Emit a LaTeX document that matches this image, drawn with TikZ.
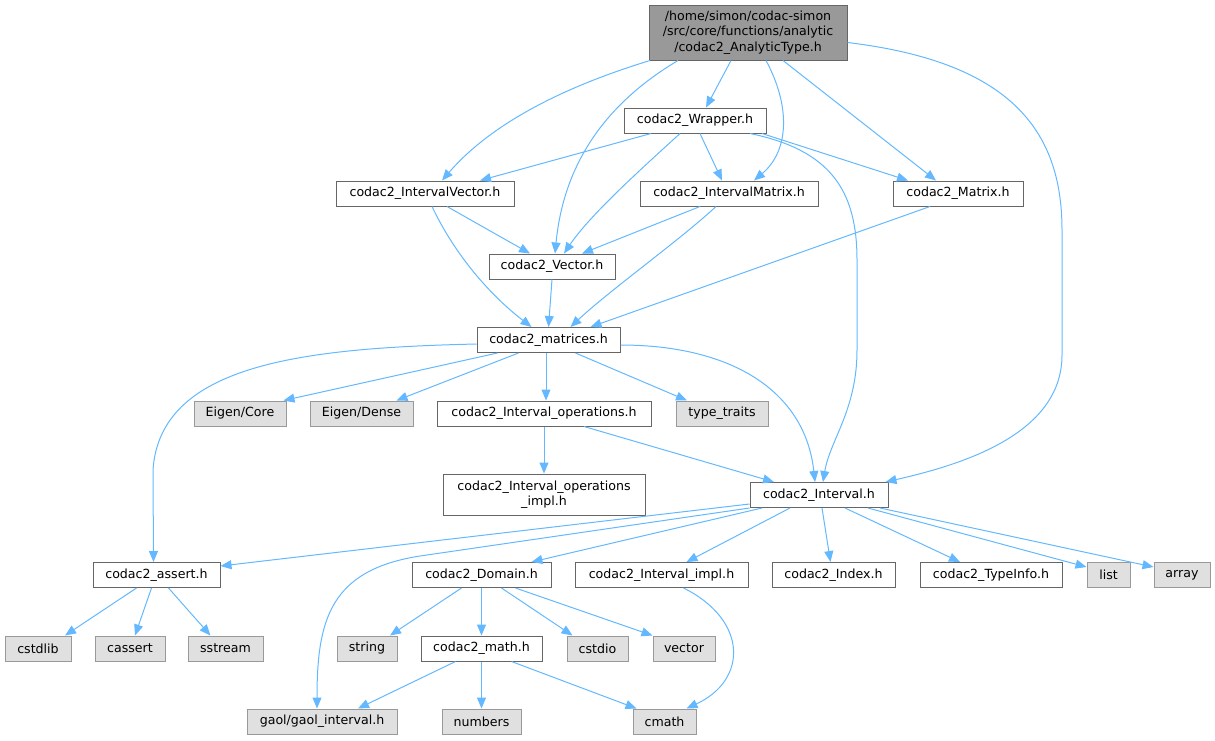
\documentclass[tikz,border=0pt]{standalone}
\usepackage{fontspec}
\setmainfont{DejaVu Sans}
\usepackage{tikz}
\usetikzlibrary{arrows.meta}
\definecolor{depblue}{HTML}{63B8FF}
\definecolor{nodeline}{HTML}{666666}
\definecolor{sysline}{HTML}{999999}
\definecolor{sysfill}{HTML}{E0E0E0}
\definecolor{topfill}{HTML}{999999}

\begin{document}
\begin{tikzpicture}[x=1pt,y=-1pt,font=\fontsize{12.6}{15.5}\selectfont,
hdr/.style={draw=nodeline,fill=white,line width=1pt,inner sep=0,minimum height=25,minimum width=#1},
sys/.style={draw=sysline,fill=sysfill,line width=1pt,inner sep=0,minimum height=25,minimum width=#1},
dep/.style={draw=depblue,line width=1pt,-{Triangle[length=11pt,width=9pt]}}]
\useasboundingbox(0,0)rectangle(1215,740);

\node[hdr=198,fill=topfill,minimum height=55,align=center](top)at(748,32.5){/home/simon/codac-simon\\/src/core/functions/analytic\\/codac2\_AnalyticType.h};
\node[hdr=142](wrap)at(695,120.5){codac2\_Wrapper.h};
\node[hdr=178](ivec)at(425,193.5){codac2\_IntervalVector.h};
\node[hdr=178](imat)at(729,193.5){codac2\_IntervalMatrix.h};
\node[hdr=130](mat)at(958,193.5){codac2\_Matrix.h};
\node[hdr=126](vec)at(552,266.5){codac2\_Vector.h};
\node[hdr=143](mats)at(548.5,340){codac2\_matrices.h};
\node[sys=92](ecore)at(240,413.5){Eigen/Core};
\node[sys=103](edense)at(361.5,413.5){Eigen/Dense};
\node[hdr=214](iops)at(544,413.5){codac2\_Interval\_operations.h};
\node[sys=92](ttraits)at(722,413.5){type\_traits};
\node[hdr=202,minimum height=41,align=center](iopsi)at(544,494.5){codac2\_Interval\_operations\\\_impl.h};
\node[hdr=138](itv)at(819,495){codac2\_Interval.h};
\node[hdr=127](asrt)at(156.5,575){codac2\_assert.h};
\node[hdr=139](dom)at(481.5,575){codac2\_Domain.h};
\node[hdr=173](iimpl)at(661.5,575){codac2\_Interval\_impl.h};
\node[hdr=123](idx)at(833.5,575){codac2\_Index.h};
\node[hdr=142](tinfo)at(991,575){codac2\_TypeInfo.h};
\node[sys=43](list)at(1108.5,575){list};
\node[sys=56](array)at(1182,575){array};
\node[sys=66](cstdlib)at(38,648.5){cstdlib};
\node[sys=70](cassert)at(130,648.5){cassert};
\node[sys=75](sstream)at(225.5,648.5){sstream};
\node[sys=60](string)at(367,648.5){string};
\node[hdr=121](math)at(481.5,648.5){codac2\_math.h};
\node[sys=61](cstdio)at(597.5,648.5){cstdio};
\node[sys=62](vector)at(684,648.5){vector};
\node[sys=150](gaol)at(322,721.5){gaol/gaol\_interval.h};
\node[sys=79](numbers)at(481.5,721.5){numbers};
\node[sys=63](cmath)at(664.5,721.5){cmath};

\draw[dep]([xshift=-17]top.south)--([xshift=11]wrap.north);
\draw[dep]([xshift=-98]top.south)..controls(560,88)and(490,125)..([xshift=17]ivec.north);
\draw[dep]([xshift=-70]top.south)..controls(620,95)and(565,150)..([xshift=3]vec.north);
\draw[dep]([xshift=18]top.south)..controls(790,105)and(790,150)..([xshift=25]imat.north);
\draw[dep]([xshift=35]top.south)--([xshift=-22]mat.north);
\draw[dep]([yshift=-10]top.east)..controls(1010,62)and(1062,130)..(1062,230)--(1062,355)..controls(1062,435)and(960,465)..([xshift=-3]itv.north east);

\draw[dep]([xshift=-44]wrap.south)--([xshift=55]ivec.north);
\draw[dep]([xshift=-15]wrap.south)..controls(640,170)and(590,215)..([xshift=12]vec.north);
\draw[dep]([xshift=5]wrap.south)--([xshift=-7]imat.north);
\draw[dep]([xshift=67]wrap.south)--([xshift=-50]mat.north);
\draw[dep]([xshift=55]wrap.south)..controls(830,150)and(857,190)..(857,260)--(857,350)..controls(857,410)and(830,440)..([xshift=4]itv.north);

\draw[dep]([xshift=22]ivec.south)--([xshift=-22]vec.north);
\draw[dep]([xshift=7]ivec.south)..controls(455,255)and(490,295)..([xshift=-17]mats.north);
\draw[dep]([xshift=-29]imat.south)--([xshift=30]vec.north);
\draw[dep]([xshift=-13]imat.south)..controls(680,240)and(610,290)..([xshift=22]mats.north);
\draw[dep]([xshift=-28]mat.south)--([xshift=42]mats.north);
\draw[dep](vec.south)--(mats.north);

\draw[dep]([yshift=-4]mats.west)..controls(300,348)and(160,365)..(153,470)--([xshift=-3]asrt.north);
\draw[dep]([xshift=-51]mats.south)--([xshift=-3]ecore.north east);
\draw[dep]([xshift=-30]mats.south)--([xshift=35]edense.north);
\draw[dep]([xshift=-2.5]mats.south)--([xshift=2]iops.north);
\draw[dep]([xshift=27]mats.south)--([xshift=-35]ttraits.north);
\draw[dep]([yshift=-5]mats.east)..controls(730,345)and(805,390)..([xshift=-4]itv.north);

\draw[dep](iops.south)--(iopsi.north);
\draw[dep]([xshift=40]iops.south)--([xshift=-45]itv.north);

\draw[dep]([yshift=-9]itv.west)--([yshift=9]asrt.east);
\draw[dep](itv.south west)--(420,556)..controls(330,570)and(317,620)..([xshift=-5]gaol.north);
\draw[dep]([xshift=-57]itv.south)--([xshift=50]dom.north);
\draw[dep]([xshift=-29]itv.south)--([xshift=25]iimpl.north);
\draw[dep]([xshift=3]itv.south)--([xshift=-3]idx.north);
\draw[dep]([xshift=26]itv.south)--([xshift=-31]tinfo.north);
\draw[dep]([xshift=49]itv.south)--([yshift=8]list.west);
\draw[dep]([xshift=61]itv.south)--([yshift=8]array.west);

\draw[dep]([xshift=-20]asrt.south)--([xshift=27]cstdlib.north);
\draw[dep]([xshift=-5]asrt.south)--([xshift=5]cassert.north);
\draw[dep]([xshift=12]asrt.south)--([xshift=-15]sstream.north);

\draw[dep]([xshift=-20]dom.south)--([xshift=23]string.north);
\draw[dep](dom.south)--(math.north);
\draw[dep]([xshift=20]dom.south)--([xshift=-25]cstdio.north);
\draw[dep]([xshift=34]dom.south)--(vector.north west);
\draw[dep]([xshift=22]iimpl.south)..controls(748,620)and(748,680)..([xshift=22]cmath.north);

\draw[dep]([xshift=-26]math.south)--([xshift=36]gaol.north);
\draw[dep](math.south)--(numbers.north);
\draw[dep]([xshift=30]math.south)--([xshift=-28]cmath.north);

\end{tikzpicture}
\end{document}
